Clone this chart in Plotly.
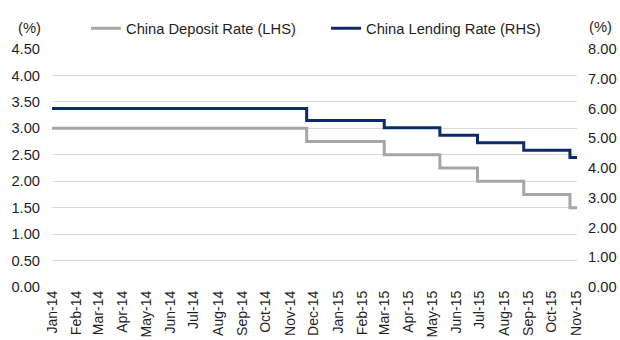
import plotly.graph_objects as go

# Step dates (rate changes) and policy rates
dates = ["2014-01-01", "2014-11-22", "2015-03-01", "2015-05-11",
         "2015-06-28", "2015-08-26", "2015-10-24", "2015-11-02"]
deposit_rate = [3.00, 2.75, 2.50, 2.25, 2.00, 1.75, 1.50, 1.50]
lending_rate = [6.00, 5.60, 5.35, 5.10, 4.85, 4.60, 4.35, 4.35]

tick_dates = ["2014-01-01", "2014-02-01", "2014-03-01", "2014-04-01", "2014-05-01",
              "2014-06-01", "2014-07-01", "2014-08-01", "2014-09-01", "2014-10-01",
              "2014-11-01", "2014-12-01", "2015-01-01", "2015-02-01", "2015-03-01",
              "2015-04-01", "2015-05-01", "2015-06-01", "2015-07-01", "2015-08-01",
              "2015-09-01", "2015-10-01", "2015-11-01"]
tick_labels = ["Jan-14", "Feb-14", "Mar-14", "Apr-14", "May-14", "Jun-14", "Jul-14",
               "Aug-14", "Sep-14", "Oct-14", "Nov-14", "Dec-14", "Jan-15", "Feb-15",
               "Mar-15", "Apr-15", "May-15", "Jun-15", "Jul-15", "Aug-15", "Sep-15",
               "Oct-15", "Nov-15"]

FONT = "Liberation Sans, Arial, sans-serif"
TXT = "#1F1F1F"
FS = 14.7

fig = go.Figure()
fig.add_trace(go.Scatter(x=dates, y=deposit_rate, mode="lines", line_shape="hv",
                         name="China Deposit Rate (LHS)",
                         line=dict(color="#A6A6A6", width=3)))
fig.add_trace(go.Scatter(x=dates, y=lending_rate, mode="lines", line_shape="hv",
                         name="China Lending Rate (RHS)", yaxis="y2",
                         line=dict(color="#0B2A6B", width=3)))

fig.update_layout(
    width=620, height=340,
    margin=dict(l=52, r=43, t=41, b=53),
    paper_bgcolor="white", plot_bgcolor="white",
    font=dict(family=FONT, size=FS, color=TXT),
    showlegend=True,
    legend=dict(orientation="h", x=0.0648, xanchor="left", y=1.085, yanchor="middle",
                font=dict(size=FS, color=TXT), bgcolor="rgba(0,0,0,0)",
                entrywidth=195, itemwidth=30),
    xaxis=dict(type="date", range=["2014-01-01", "2015-11-02"],
               tickvals=tick_dates, ticktext=tick_labels, tickangle=-90,
               showgrid=False, zeroline=False, showline=False, ticks="",
               automargin=False, tickfont=dict(size=14, color=TXT)),
    yaxis=dict(range=[0, 4.5], dtick=0.5, tickformat=".2f", showgrid=True,
               gridcolor="#D9D9D9", gridwidth=1, zeroline=False, showline=False,
               ticks="", automargin=False, ticklabelstandoff=11,
               tickfont=dict(size=FS, color=TXT)),
    yaxis2=dict(range=[0, 8], dtick=1, tickformat=".2f", overlaying="y", side="right",
                showgrid=False, zeroline=False, showline=False, ticks="",
                automargin=False, ticklabelstandoff=10,
                tickfont=dict(size=FS, color=TXT)),
    annotations=[
        dict(text="(%)", xref="paper", yref="paper", x=-0.0438, y=1.089,
             xanchor="center", yanchor="middle", showarrow=False,
             font=dict(size=FS, color=TXT)),
        dict(text="(%)", xref="paper", yref="paper", x=1.045, y=1.093,
             xanchor="center", yanchor="middle", showarrow=False,
             font=dict(size=FS, color=TXT)),
    ],
)

fig.write_html("out.html")
